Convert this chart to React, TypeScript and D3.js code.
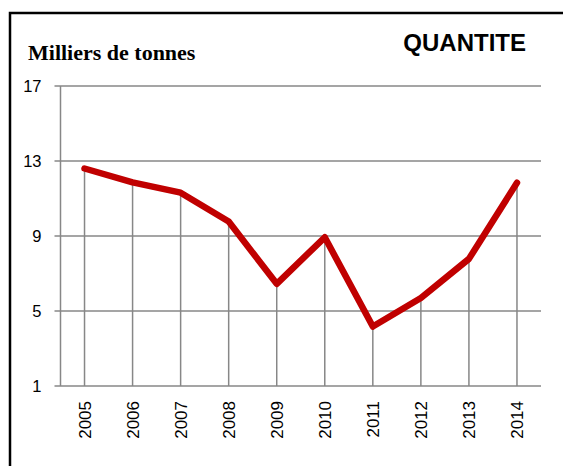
import React, { useEffect, useRef } from "react";
import * as d3 from "d3";

// Chart data
const years = ["2005", "2006", "2007", "2008", "2009", "2010", "2011", "2012", "2013", "2014"];
const quantities = [12.6, 11.86, 11.31, 9.77, 6.45, 8.93, 4.17, 5.69, 7.78, 11.84];
const yTicks = [1, 5, 9, 13, 17];

const App = () => {
  const svgRef = useRef(null);
  const width = 563;
  const height = 466;

  useEffect(() => {
    const svg = d3.select(svgRef.current);
    svg.selectAll("*").remove();

    const margin = { top: 86, left: 60.5, right: 22, bottom: 80 };
    const plotRight = width - margin.right;
    const plotBottom = height - margin.bottom;

    // Outer frame
    svg
      .append("rect")
      .attr("x", 10)
      .attr("y", 13)
      .attr("width", 600)
      .attr("height", 500)
      .attr("fill", "white")
      .attr("stroke", "black")
      .attr("stroke-width", 2.5);

    const xScale = d3
      .scaleBand()
      .domain(years)
      .range([margin.left, plotRight]);

    const yScale = d3.scaleLinear().domain([1, 17]).range([plotBottom, margin.top]);

    const gridColor = "#878787";

    // Horizontal gridlines (with small tick on the left)
    svg
      .append("g")
      .selectAll("line")
      .data(yTicks)
      .join("line")
      .attr("x1", margin.left - 6)
      .attr("x2", plotRight)
      .attr("y1", (d) => yScale(d))
      .attr("y2", (d) => yScale(d))
      .attr("stroke", gridColor)
      .attr("stroke-width", 1.5);

    // Y axis line
    svg
      .append("line")
      .attr("x1", margin.left)
      .attr("x2", margin.left)
      .attr("y1", yScale(17))
      .attr("y2", yScale(1))
      .attr("stroke", gridColor)
      .attr("stroke-width", 1.5);

    // Y tick labels
    svg
      .append("g")
      .selectAll("text")
      .data(yTicks)
      .join("text")
      .attr("x", 41.5)
      .attr("y", (d) => yScale(d))
      .attr("text-anchor", "end")
      .attr("dominant-baseline", "central")
      .attr("font-family", "'Liberation Sans', Arial, sans-serif")
      .attr("font-size", 16.5)
      .attr("fill", "black")
      .text((d) => d);

    const cx = (d) => xScale(d) + xScale.bandwidth() / 2;

    // Drop lines from each point to the axis
    svg
      .append("g")
      .selectAll("line")
      .data(years)
      .join("line")
      .attr("x1", (d) => cx(d))
      .attr("x2", (d) => cx(d))
      .attr("y1", (d, i) => yScale(quantities[i]))
      .attr("y2", yScale(1))
      .attr("stroke", gridColor)
      .attr("stroke-width", 1.5);

    // X tick labels, rotated
    svg
      .append("g")
      .selectAll("text")
      .data(years)
      .join("text")
      .attr("transform", (d) => `translate(${cx(d) + 1}, 401) rotate(-90)`)
      .attr("text-anchor", "end")
      .attr("dominant-baseline", "central")
      .attr("font-family", "'Liberation Sans', Arial, sans-serif")
      .attr("font-size", 17)
      .attr("fill", "black")
      .text((d) => d);

    // Data line
    const line = d3
      .line()
      .x((d, i) => cx(years[i]))
      .y((d) => yScale(d));

    svg
      .append("path")
      .datum(quantities)
      .attr("d", line)
      .attr("fill", "none")
      .attr("stroke", "#c00000")
      .attr("stroke-width", 6.5)
      .attr("stroke-linejoin", "round")
      .attr("stroke-linecap", "round");

    // Titles
    svg
      .append("text")
      .attr("x", 28)
      .attr("y", 60)
      .attr("font-family", "'Liberation Serif', 'Times New Roman', serif")
      .attr("font-weight", "bold")
      .attr("font-size", 22)
      .attr("fill", "black")
      .text("Milliers de tonnes");

    svg
      .append("text")
      .attr("x", 526)
      .attr("y", 51)
      .attr("text-anchor", "end")
      .attr("font-family", "'Liberation Sans', Arial, sans-serif")
      .attr("font-weight", "bold")
      .attr("font-size", 24)
      .attr("fill", "black")
      .text("QUANTITE");
  }, []);

  return (
    <svg
      ref={svgRef}
      width={width}
      height={height}
      style={{ position: "absolute", left: 0, top: 0, background: "white" }}
    ></svg>
  );
};

export default App;
